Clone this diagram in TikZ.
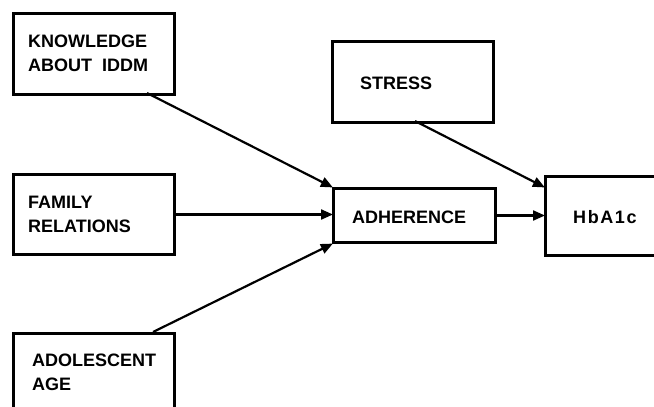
\documentclass[tikz,border=0pt]{standalone}
\usepackage{fontspec}
\setmainfont{Liberation Sans}
\usetikzlibrary{arrows.meta}
\begin{document}
\begin{tikzpicture}[x=1pt,y=-1pt,
  box/.style={draw, line width=3pt, rectangle, inner sep=0pt, anchor=north west},
  lbl/.style={anchor=base west, inner sep=0pt, font=\fontsize{18}{24}\selectfont\bfseries, align=left},
  arr/.style={line width=2.2pt, -{Triangle[length=12pt,width=10pt]}, shorten >=-1pt}]
\useasboundingbox (0,0) rectangle (654,407);
\clip (0,0) rectangle (654,407);
\node[box, minimum width=161pt, minimum height=81pt] (know) at (12,12) {};
\node[box, minimum width=161pt, minimum height=80pt] (fam) at (12,173) {};
\node[box, minimum width=161pt, minimum height=100pt] (adol) at (12,332) {};
\node[box, minimum width=161pt, minimum height=81pt] (stress) at (331,40) {};
\node[box, minimum width=162pt, minimum height=54pt] (adh) at (332,187) {};
\node[box, minimum width=140pt, minimum height=79pt] (hba) at (544,175) {};
\node[lbl] (tknow) at (28,71) {KNOWLEDGE\\ABOUT\ \ IDDM};
\node[lbl] (tfam) at (28,232) {FAMILY\\RELATIONS};
\node[lbl] (tadol) at (32,390) {ADOLESCENT\\AGE};
\node[lbl] (tstress) at (360,89) {STRESS};
\node[lbl] (tadh) at (352,223) {ADHERENCE};
\node[lbl] (thba) at (573,223) {H\kern1.6pt b\kern1.6pt A\kern1.6pt 1\kern1.6pt c};
\coordinate (k1) at (147,93);
\coordinate (a1) at (153,332);
\coordinate (s1) at (415,121);
\draw[arr] (k1) -- (adh.north west);
\draw[arr] (fam.east) -- (fam.east -| adh.west);
\draw[arr] (a1) -- (adh.south west);
\draw[arr] (s1) -- (hba.north west |- adh.north);
\draw[arr] (adh.east) -- (adh.east -| hba.west);
\end{tikzpicture}
\end{document}
